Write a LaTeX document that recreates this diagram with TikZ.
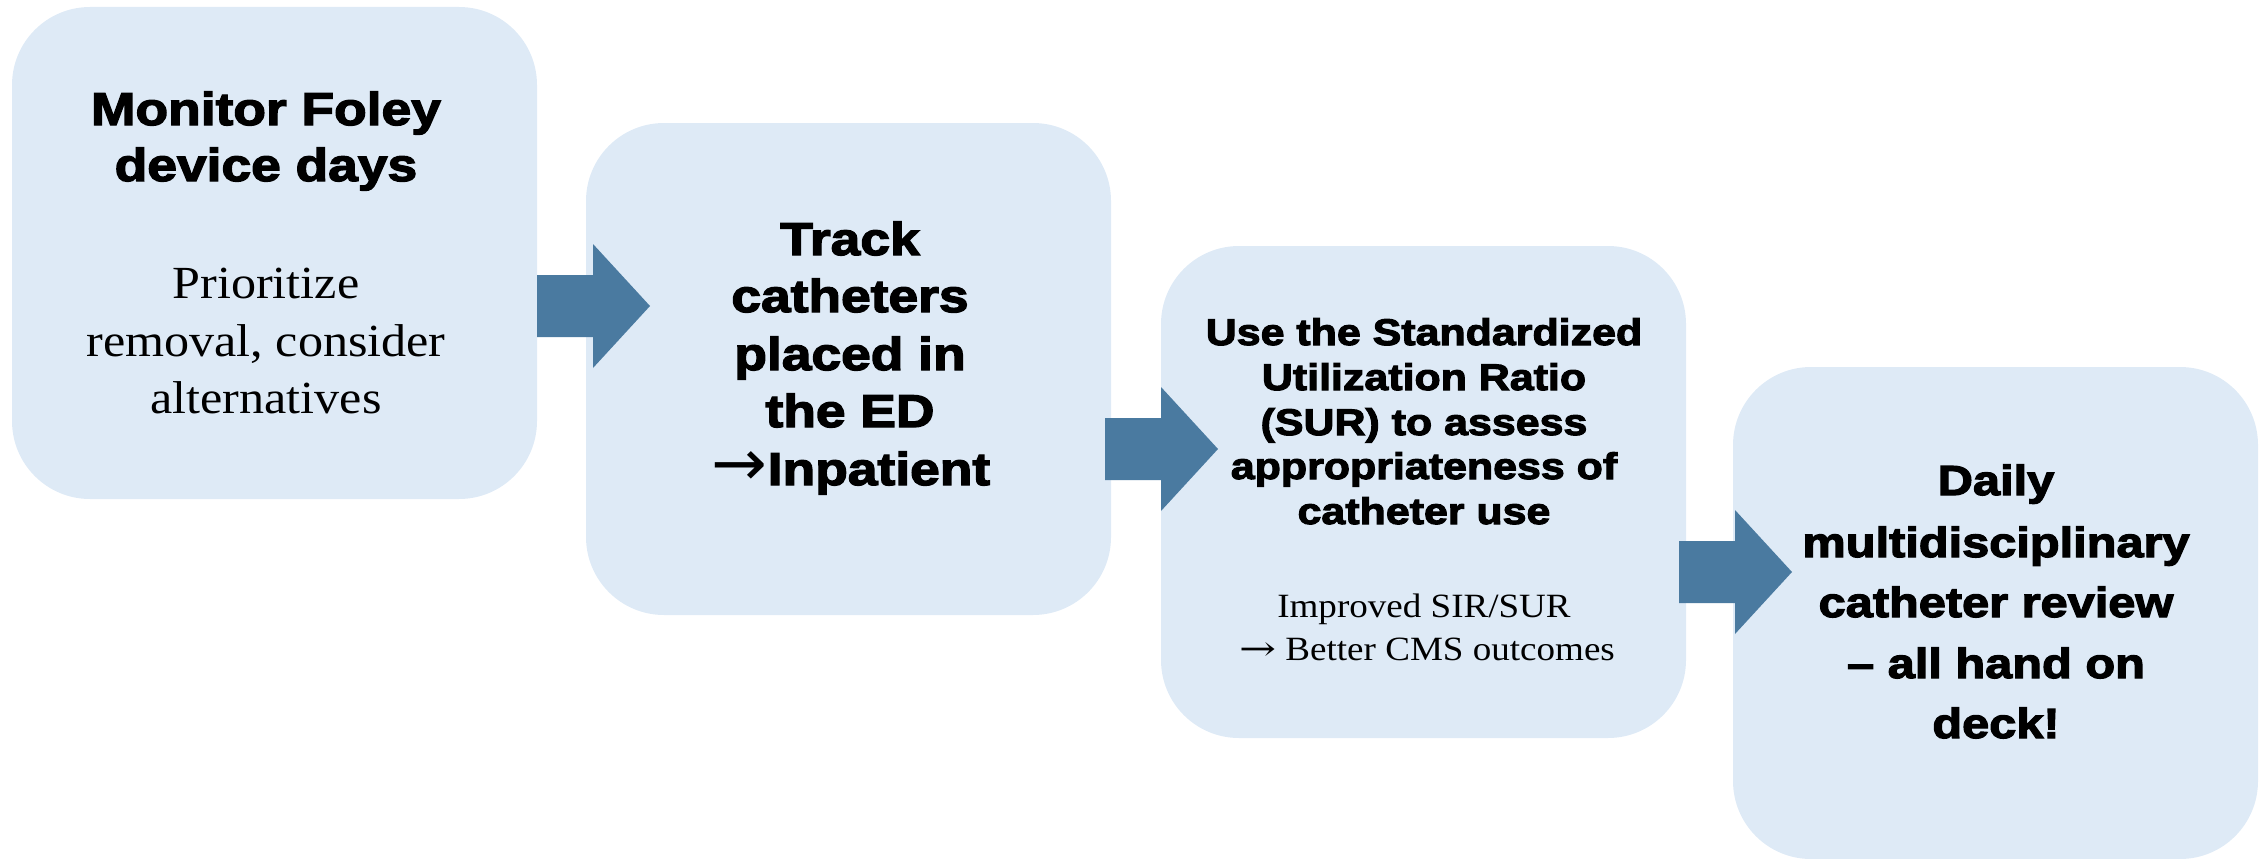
\documentclass[tikz,border=0pt]{standalone}
\usepackage{fontspec}
\setmainfont{Liberation Serif}[FakeStretch=1.09]
\newfontfamily\heavyfont{Liberation Sans}[FakeStretch=1.16, BoldFeatures={FakeBold=3}]
\newfontfamily\arrowsans{DejaVu Sans}
\newfontfamily\arrowserif{DejaVu Serif}
\definecolor{boxblue}{HTML}{DEEAF6}
\definecolor{arrowblue}{HTML}{4A7AA0}
\tikzset{
  stepbox/.style={fill=boxblue, draw=none, rounded corners=78pt,
    minimum width=525pt, minimum height=492pt, anchor=north west,
    inner sep=0pt, outer sep=0pt},
  flow/.style={fill=arrowblue, draw=none},
  line/.style={anchor=base, inner sep=0pt, text=black},
  headA/.style={line, font=\heavyfont\bfseries\fontsize{46pt}{57.5pt}\selectfont},
  headB/.style={line, font=\heavyfont\bfseries\fontsize{37pt}{45pt}\selectfont},
  headC/.style={line, font=\heavyfont\bfseries\fontsize{42pt}{61pt}\selectfont},
  bodyA/.style={line, font=\fontsize{46pt}{57.5pt}\selectfont},
  bodyB/.style={line, font=\fontsize{34pt}{43pt}\selectfont},
}
% block arrow whose head base sits at the given point
\newcommand\flowarrow[1]{%
  \fill[flow] (#1) ++(-56,-31) -- ++(56,0) -- ++(0,-31) -- ++(57,62)
    -- ++(-57,62) -- ++(0,-31) -- ++(-56,0) -- cycle;}
\begin{document}
\begin{tikzpicture}[x=1pt, y=-1pt]
\useasboundingbox (0,0) rectangle (2265,859);

% process steps
\node[stepbox] (b1) at (12,7) {};
\node[stepbox] (b2) at (586,123) {};
\node[stepbox] (b3) at (1161,246) {};
\node[stepbox] (b4) at (1733,367) {};

% arrows between the steps
\coordinate (h1) at (593,306);
\coordinate (h2) at (1161,449);
\coordinate (h3) at (1735,572);
\flowarrow{h1}
\flowarrow{h2}
\flowarrow{h3}

% step 1
\node[headA] (t1a) at (266,125) {Monitor Foley};
\node[headA] (t1b) at (266,181) {device days};
\node[bodyA] (t1c) at (266,298) {Prioritize};
\node[bodyA] (t1d) at (266,356) {removal, consider};
\node[bodyA] (t1e) at (266,413) {alternatives};

% step 2
\node[headA] (t2a) at (850,255) {Track};
\node[headA] (t2b) at (850,312) {catheters};
\node[headA] (t2c) at (850,370) {placed in};
\node[headA] (t2d) at (850,427) {the ED};
\node[headA] (t2e) at (851,485) {{\arrowsans\mdseries\scalebox{1.45}[1.4]{→}}Inpatient};

% step 3
\node[headB] (t3a) at (1424,345) {Use the Standardized};
\node[headB] (t3b) at (1424,390) {Utilization Ratio};
\node[headB] (t3c) at (1424,435) {(SUR) to assess};
\node[headB] (t3d) at (1424,479) {appropriateness of};
\node[headB] (t3e) at (1424,524) {catheter use};
\node[bodyB] (t3f) at (1424,617) {Improved SIR/SUR};
\node[bodyB] (t3g) at (1427,660) {{\arrowserif\scalebox{1.3}[1]{→}} Better CMS outcomes};

% step 4
\node[headC] (t4a) at (1996,495) {Daily};
\node[headC] (t4b) at (1996,557) {multidisciplinary};
\node[headC] (t4c) at (1996,617) {catheter review};
\node[headC] (t4d) at (1996,678) {– all hand on};
\node[headC] (t4e) at (1996,738) {deck!};
\end{tikzpicture}
\end{document}
